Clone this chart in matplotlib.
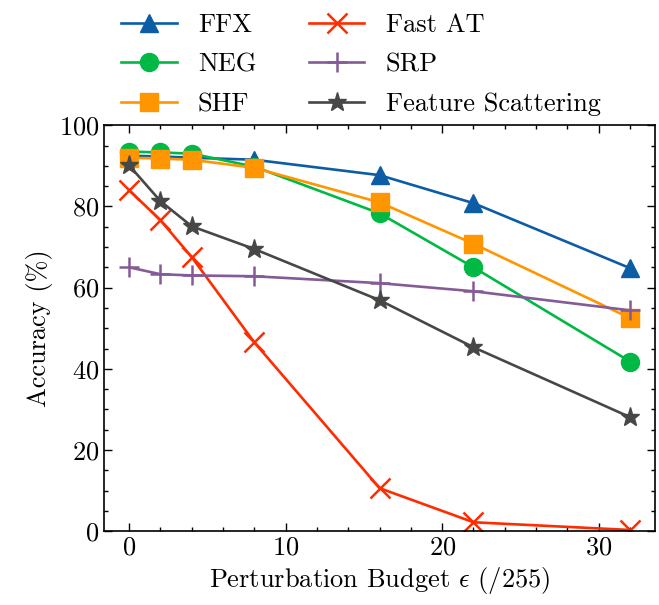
import matplotlib.pyplot as plt
from matplotlib.ticker import MultipleLocator

plt.rcParams["font.family"] = "serif"
plt.rcParams["font.serif"] = ["cmr10", "DejaVu Serif"]
plt.rcParams["mathtext.fontset"] = "cm"
plt.rcParams["axes.formatter.use_mathtext"] = True

# perturbation budgets (x) and accuracy per method
EPS = [0, 2, 4, 8, 16, 22, 32]
FFX = [92.5, 92.3, 92.0, 91.5, 87.7, 80.8, 64.8]
NEG = [93.5, 93.3, 93.0, 89.8, 78.3, 65.0, 41.8]
SHF = [92.0, 91.8, 91.5, 89.5, 81.0, 70.8, 52.5]
FAST_AT = [84.0, 76.6, 67.5, 46.5, 10.6, 2.2, 0.3]
SRP = [65.0, 63.3, 63.0, 62.8, 61.1, 59.1, 54.4]
FEAT_SCAT = [90.1, 81.3, 75.1, 69.5, 56.9, 45.3, 28.1]

SERIES = [
    ("FFX", FFX, "#0C5DA5", "^"),
    ("NEG", NEG, "#00B945", "o"),
    ("SHF", SHF, "#FF9500", "s"),
    ("Fast AT", FAST_AT, "#FF2C00", "x"),
    ("SRP", SRP, "#845B97", "+"),
    ("Feature Scattering", FEAT_SCAT, "#474747", "*"),
]

FS = 19


def main():
    fig = plt.figure(figsize=(6.59, 6.05), dpi=100)
    ax = fig.add_axes([0.158, 0.122, 0.836, 0.671])

    for name, vals, color, marker in SERIES:
        ms = 13
        if marker in ("x", "+"):
            ms = 15
        elif marker == "*":
            ms = 14
        ax.plot(EPS, vals, color=color, marker=marker, markersize=ms,
                linewidth=1.9, markeredgewidth=1.8 if marker in ("x", "+") else 1.0,
                label=name)

    ax.set_ylim(0, 100)
    ax.set_xlim(-1.6, 33.6)
    ax.xaxis.set_major_locator(MultipleLocator(10))
    ax.xaxis.set_minor_locator(MultipleLocator(2))
    ax.yaxis.set_major_locator(MultipleLocator(20))
    ax.yaxis.set_minor_locator(MultipleLocator(5))
    ax.tick_params(which="both", direction="in", top=True, right=True,
                   labelsize=FS, width=1.0)
    ax.tick_params(which="major", length=6)
    ax.tick_params(which="minor", length=3)
    for sp in ax.spines.values():
        sp.set_linewidth(1.2)

    ax.set_xlabel(r"Perturbation Budget $\epsilon$ (/255)", fontsize=FS)
    ax.set_ylabel("Accuracy (%)", fontsize=FS)

    # legend sits above the axes, slightly left of centre like the original
    ax.legend(loc="lower center", bbox_to_anchor=(0.466, 0.99), ncol=2,
              frameon=False, fontsize=FS, handlelength=2.1,
              columnspacing=2.0, labelspacing=0.6, borderaxespad=0.1)

    fig.savefig("out.png", dpi=100)


if __name__ == "__main__":
    main()
